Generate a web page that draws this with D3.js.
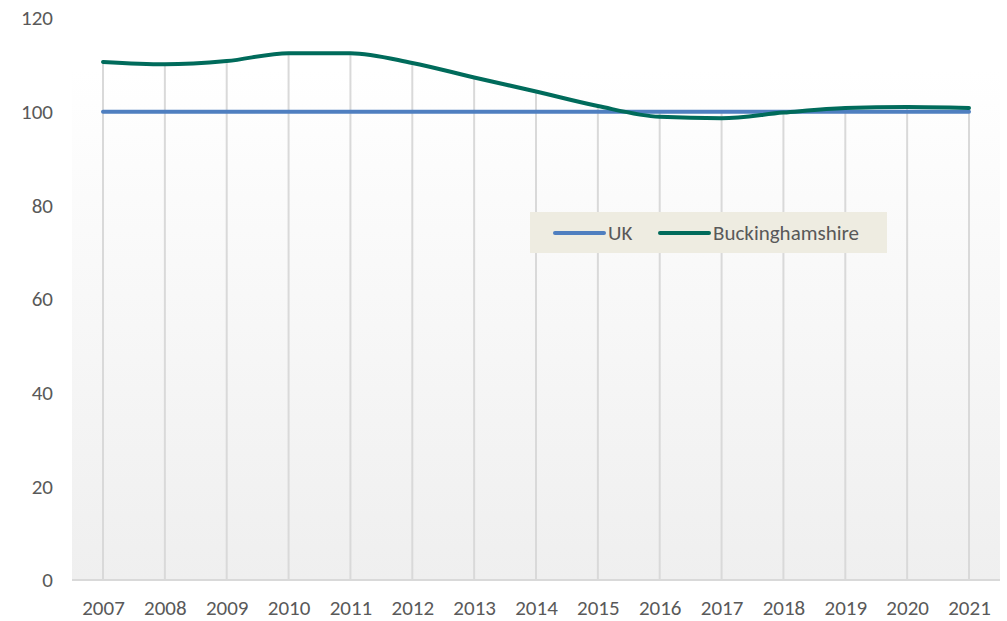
<!DOCTYPE html>
<html>
<head>
<meta charset="utf-8">
<script src="https://cdn.jsdelivr.net/npm/d3@7"></script>
<style>
  body { margin: 0; background: #fff; }
  svg { display: block; }
  text { font-family: Carlito, Calibri, "Open Sans", sans-serif; fill: #595959; }
</style>
</head>
<body>
<svg width="1007" height="621"></svg>
<script>

const years = ["2007", "2008", "2009", "2010", "2011", "2012", "2013", "2014",
               "2015", "2016", "2017", "2018", "2019", "2020", "2021"];

const uk = [100, 100, 100, 100, 100, 100, 100, 100, 100, 100, 100, 100, 100, 100, 100];

const bucks = [110.6, 110.1, 110.8, 112.5, 112.5, 110.4, 107.3, 104.3,
               101.2, 98.9, 98.6, 99.8, 100.8, 101.0, 100.8];

const yTicks = [0, 20, 40, 60, 80, 100, 120];

const seriesNames = ["UK", "Buckinghamshire"];
const seriesColors = ["#4f7fc0", "#006b5b"];

const svg = d3.select("svg");

const x = d3.scalePoint()
    .domain(years)
    .range([103, 969]);

const y = d3.scaleLinear()
    .domain([0, 120])
    .range([580, 18]);

// plot area background (soft gradient)
const defs = svg.append("defs");
const grad = defs.append("linearGradient")
    .attr("id", "bg")
    .attr("x1", 0).attr("y1", 0).attr("x2", 0).attr("y2", 1);
grad.append("stop").attr("offset", "0%").attr("stop-color", "#ffffff");
grad.append("stop").attr("offset", "100%").attr("stop-color", "#efefef");

svg.append("rect")
    .attr("x", 72)
    .attr("y", 70)
    .attr("width", 928)
    .attr("height", y(0) - 70)
    .attr("fill", "url(#bg)");

// drop lines from the highest point down to the axis
svg.append("g")
    .selectAll("line")
    .data(years)
    .join("line")
    .attr("x1", d => x(d))
    .attr("x2", d => x(d))
    .attr("y1", (d, i) => y(Math.max(uk[i], bucks[i])))
    .attr("y2", y(0))
    .attr("stroke", "#d9d9d9")
    .attr("stroke-width", 2);

// x axis line
svg.append("line")
    .attr("x1", 72)
    .attr("x2", 1000)
    .attr("y1", y(0))
    .attr("y2", y(0))
    .attr("stroke", "#d9d9d9")
    .attr("stroke-width", 2);

// axes
const xAxis = svg.append("g")
    .attr("transform", `translate(0, ${y(0)})`)
    .call(d3.axisBottom(x).tickSize(0).tickPadding(20));
xAxis.select(".domain").remove();
xAxis.selectAll("text")
    .attr("font-size", "21px")
    .attr("fill", "#595959");

const yAxis = svg.append("g")
    .attr("transform", "translate(53, 0)")
    .call(d3.axisLeft(y).tickValues(yTicks).tickSize(0).tickPadding(0));
yAxis.select(".domain").remove();
yAxis.selectAll("text")
    .attr("font-size", "21px")
    .attr("fill", "#595959");

// lines
const line = d3.line()
    .x((d, i) => x(years[i]))
    .y(d => y(d))
    .curve(d3.curveMonotoneX);

[uk, bucks].forEach((s, k) => {
    svg.append("path")
        .datum(s)
        .attr("d", line)
        .attr("fill", "none")
        .attr("stroke", seriesColors[k])
        .attr("stroke-width", 4)
        .attr("stroke-linecap", "round")
        .attr("stroke-linejoin", "round");
});

// legend
const legend = svg.append("g");
legend.append("rect")
    .attr("x", 530)
    .attr("y", 212)
    .attr("width", 357)
    .attr("height", 41)
    .attr("fill", "#eeece1");

const legendX = [555, 660];
seriesNames.forEach((name, k) => {
    legend.append("line")
        .attr("x1", legendX[k])
        .attr("x2", legendX[k] + 49)
        .attr("y1", 233)
        .attr("y2", 233)
        .attr("stroke", seriesColors[k])
        .attr("stroke-width", 4)
        .attr("stroke-linecap", "round");
    legend.append("text")
        .attr("x", legendX[k] + 53)
        .attr("y", 233)
        .attr("dy", "0.35em")
        .attr("font-size", "21px")
        .text(name);
});

</script>
</body>
</html>
